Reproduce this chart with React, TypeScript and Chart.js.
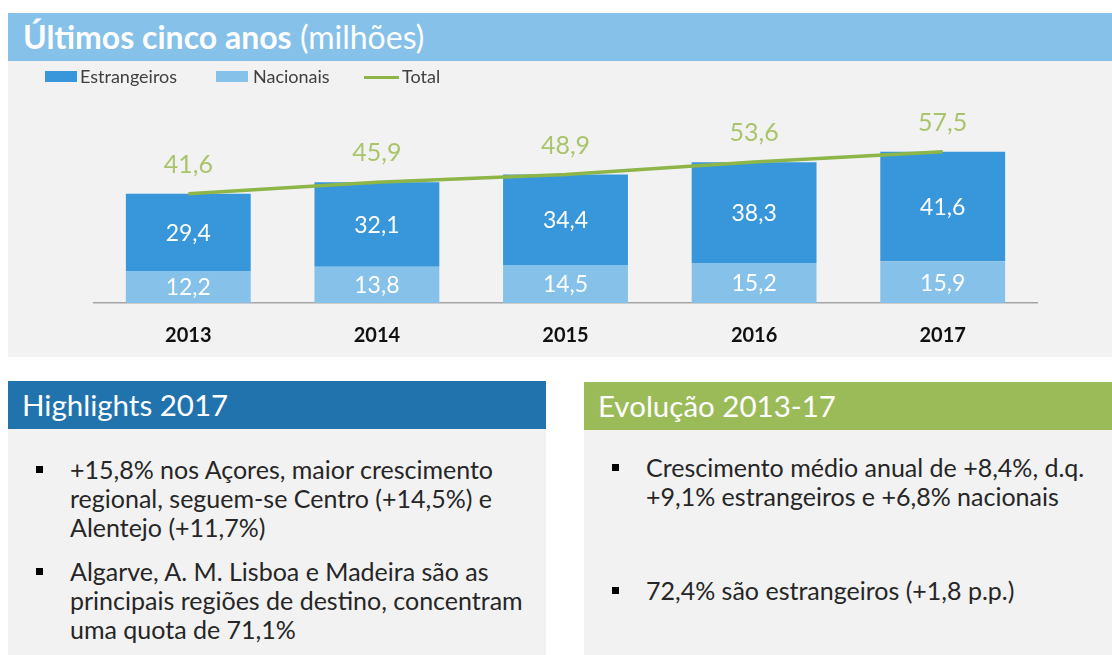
import React, { useEffect, useRef } from "react";
import { Chart, registerables } from "chart.js";

Chart.register(...registerables);

const FONT = "Lato, 'Open Sans', sans-serif";

const years = ["2013", "2014", "2015", "2016", "2017"];
const estrangeiros = [29.4, 32.1, 34.4, 38.3, 41.6];
const nacionais = [12.2, 13.8, 14.5, 15.2, 15.9];
const totals = [41.6, 45.9, 48.9, 53.6, 57.5];
const seriesNames = ["Estrangeiros", "Nacionais", "Total"];

const highlights = [
  ["+15,8% nos Açores, maior crescimento", "regional, seguem-se Centro (+14,5%) e", "Alentejo (+11,7%)"],
  ["Algarve, A. M. Lisboa e Madeira são as", "principais regiões de destino, concentram", "uma quota de 71,1%"],
];
const evolucao = [
  ["Crescimento médio anual de +8,4%, d.q.", "+9,1% estrangeiros e +6,8% nacionais"],
  ["72,4% são estrangeiros (+1,8 p.p.)"],
];

const C_EST = "#3797DA";
const C_NAC = "#85C1E9";
const C_TOT = "#8DB547";
const C_TOT_LABEL = "#A9C46B";

const fmt = (v: number) => v.toFixed(1).replace(".", ",");

const labelPlugin = {
  id: "valueLabels",
  afterDatasetsDraw(chart: any) {
    const ctx = chart.ctx;
    ctx.save();
    ctx.textAlign = "center";
    ctx.textBaseline = "middle";
    chart.data.datasets.forEach((ds: any, i: number) => {
      const meta = chart.getDatasetMeta(i);
      meta.data.forEach((el: any, j: number) => {
        const v = ds.data[j] as number;
        if (meta.type === "bar") {
          const p = el.getProps(["x", "y", "base"], true);
          ctx.font = `23px ${FONT}`;
          ctx.fillStyle = "#ffffff";
          ctx.fillText(fmt(v), p.x, (p.y + p.base) / 2 + 1);
        } else {
          ctx.font = `25px ${FONT}`;
          ctx.fillStyle = C_TOT_LABEL;
          ctx.fillText(fmt(v), el.x, el.y - 29);
        }
      });
    });
    ctx.restore();
  },
};

function ChartCanvas() {
  const ref = useRef<HTMLCanvasElement>(null);
  useEffect(() => {
    if (!ref.current) return;
    const chart = new Chart(ref.current, {
      type: "bar",
      data: {
        labels: years,
        datasets: [
          {
            type: "bar",
            label: seriesNames[1],
            data: nacionais,
            backgroundColor: C_NAC,
            categoryPercentage: 1,
            barPercentage: 0.662,
            order: 1,
          },
          {
            type: "bar",
            label: seriesNames[0],
            data: estrangeiros,
            backgroundColor: C_EST,
            categoryPercentage: 1,
            barPercentage: 0.662,
            order: 1,
          },
          {
            type: "line",
            label: seriesNames[2],
            data: totals,
            borderColor: C_TOT,
            borderWidth: 3.5,
            pointRadius: 0,
            tension: 0,
            order: 0,
          } as any,
        ],
      },
      options: {
        animation: false,
        responsive: false,
        maintainAspectRatio: false,
        layout: { padding: { left: 86, right: 75, top: 58, bottom: 9 } },
        plugins: { legend: { display: false }, tooltip: { enabled: false } },
        scales: {
          x: {
            stacked: true,
            grid: { display: false, drawTicks: false },
            border: { display: true, color: "#A6A6A6", width: 1.5 },
            ticks: {
              color: "#111111",
              padding: 21,
              font: { family: FONT, size: 20, weight: "bold" },
            },
            afterFit: (scale: any) => {
              scale.height = 45;
            },
          },
          y: {
            stacked: true,
            display: false,
            min: 0,
            max: 70,
          },
        },
      },
      plugins: [labelPlugin],
    });
    return () => chart.destroy();
  }, []);
  return <canvas ref={ref} width={1104} height={296} style={{ position: "absolute", left: 0, top: 0, width: 1104, height: 296 }} />;
}

function Bullets({ items, left, top, textLeft, gap }: { items: string[][]; left: number; top: number; textLeft: number; gap: number }) {
  let y = top;
  const out: any[] = [];
  items.forEach((lines, i) => {
    out.push(
      <div key={"b" + i} style={{ position: "absolute", left, top: y + 11, width: 7, height: 7, background: "#000" }} />
    );
    out.push(
      <div key={"t" + i} style={{ position: "absolute", left: textLeft, top: y, fontSize: 25, lineHeight: "29px", color: "#262626", whiteSpace: "nowrap" }}>
        {lines.map((l, k) => (
          <div key={k}>{l}</div>
        ))}
      </div>
    );
    y += lines.length * 29 + gap;
  });
  return <>{out}</>;
}

export default function App() {
  const legendItem = (left: number, color: string, label: string, line: boolean, textLeft: number) => (
    <>
      <div
        style={{
          position: "absolute",
          left,
          top: line ? 15 : 10,
          width: line ? 35 : 32,
          height: line ? 3 : 11,
          background: color,
        }}
      />
      <div style={{ position: "absolute", left: textLeft, top: 5, fontSize: 18, lineHeight: "20px", color: "#404040" }}>{label}</div>
    </>
  );
  return (
    <div style={{ position: "fixed", left: 0, top: 0, width: 1112, height: 655, background: "#ffffff", overflow: "hidden", fontFamily: FONT }}>
      <div style={{ position: "absolute", left: 8, top: 13, width: 1104, height: 48, background: "#85C1E9" }}>
        <div style={{ position: "absolute", left: 15, top: 5, fontSize: 32, lineHeight: "38px", color: "#ffffff", whiteSpace: "nowrap" }}>
          <span style={{ fontWeight: 700 }}>Últimos cinco anos</span> <span>(milhões)</span>
        </div>
      </div>
      <div style={{ position: "absolute", left: 8, top: 61, width: 1104, height: 296, background: "#F2F2F2" }}>
        <ChartCanvas />
        {legendItem(37, C_EST, seriesNames[0], false, 72)}
        {legendItem(208, C_NAC, seriesNames[1], false, 245)}
        {legendItem(356, C_TOT, seriesNames[2], true, 394)}
      </div>
      <div style={{ position: "absolute", left: 8, top: 381, width: 538, height: 48, background: "#2173AD" }}>
        <div style={{ position: "absolute", left: 14, top: 6, fontSize: 29.5, lineHeight: "36px", color: "#ffffff", whiteSpace: "nowrap" }}>Highlights 2017</div>
      </div>
      <div style={{ position: "absolute", left: 8, top: 429, width: 538, height: 226, background: "#F2F2F2" }} />
      <div style={{ position: "absolute", left: 584, top: 382, width: 528, height: 48, background: "#9BBB59" }}>
        <div style={{ position: "absolute", left: 14, top: 6, fontSize: 29.5, lineHeight: "36px", color: "#ffffff", whiteSpace: "nowrap" }}>Evolução 2013-17</div>
      </div>
      <div style={{ position: "absolute", left: 584, top: 430, width: 528, height: 225, background: "#F2F2F2" }} />
      <Bullets items={highlights} left={36} top={455} textLeft={70} gap={15} />
      <Bullets items={evolucao} left={612} top={453} textLeft={646} gap={65} />
    </div>
  );
}
